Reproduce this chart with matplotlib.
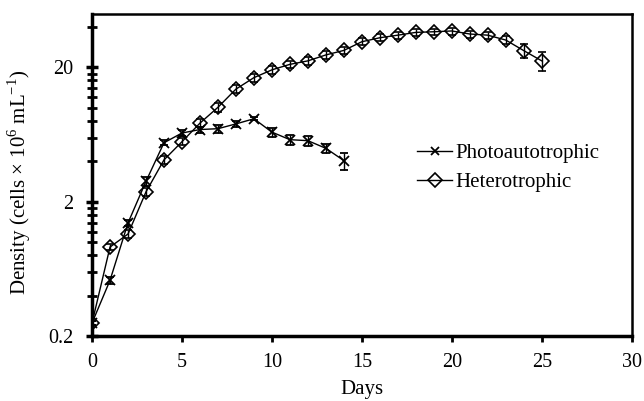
import matplotlib.pyplot as plt
import numpy as np
from matplotlib.lines import Line2D
from matplotlib.ticker import FixedLocator, NullFormatter

plt.rcParams['font.family'] = ['Liberation Serif', 'DejaVu Serif']
plt.rcParams['mathtext.fontset'] = 'custom'
plt.rcParams['mathtext.rm'] = 'Liberation Serif'

# Data
days_photo = [0, 1, 2, 3, 4, 5, 6, 7, 8, 9, 10, 11, 12, 13, 14]
photo = [0.25, 0.52, 1.39, 2.84, 5.5, 6.5, 6.9, 7.0, 7.6, 8.3, 6.6, 5.8, 5.7, 5.0, 4.05]
photo_err = [0.01, 0.03, 0.08, 0.2, 0.25, 0.3, 0.35, 0.5, 0.45, 0.2, 0.5, 0.5, 0.5, 0.4, 0.6]

days_hetero = list(range(26))
hetero = [0.25, 0.92, 1.15, 2.37, 4.1, 5.6, 7.7, 10.1, 13.8, 16.8, 19.2, 21.1,
          22.4, 24.8, 26.8, 31.1, 33.3, 34.8, 36.5, 36.9, 37.4, 35.5, 34.8,
          32.0, 26.7, 22.4]
hetero_err = [0.01, 0.05, 0.08, 0.15, 0.25, 0.35, 0.5, 0.7, 0.9, 1.1, 1.3, 1.4,
              1.5, 1.6, 1.7, 1.9, 2.0, 2.0, 2.1, 2.1, 2.2, 2.1, 2.1,
              2.2, 3.0, 3.6]

x_ticks = [0, 5, 10, 15, 20, 25, 30]
y_major = [0.2, 2, 20]
y_labels = ['0.2', '2', '20']

fig = plt.figure(figsize=(6.44, 4.01), dpi=100)
ax = fig.add_axes([0.1429, 0.162, 0.838, 0.803])

ax.errorbar(days_photo, photo, yerr=photo_err, color='black', lw=1.0,
            marker='x', ms=7, mew=1.3, capsize=3, elinewidth=1.0)
ax.errorbar(days_hetero, hetero, yerr=hetero_err, color='black', lw=1.0,
            marker='D', ms=7.5, mfc='none', mew=1.2, capsize=3, elinewidth=1.0)

ax.set_yscale('log')
ax.set_xlim(0, 30)
ax.set_ylim(0.2, 50)

ax.set_xticks(x_ticks)
ax.set_xticklabels([str(t) for t in x_ticks])
ax.yaxis.set_major_locator(FixedLocator(y_major))
ax.set_yticklabels(y_labels)
minor = [0.2 * k for k in range(2, 10)] + [2 * k for k in range(2, 10)] + [40]
ax.yaxis.set_minor_locator(FixedLocator(minor))
ax.yaxis.set_minor_formatter(NullFormatter())

ax.tick_params(axis='y', which='major', direction='inout', length=9, width=2.5,
               labelsize=14.5, pad=9)
ax.tick_params(axis='y', which='minor', direction='inout', length=7, width=2)
ax.tick_params(axis='x', which='major', direction='out', length=4, width=2,
               labelsize=14.5, pad=8)

for s in ['left', 'bottom']:
    ax.spines[s].set_linewidth(2.5)
for s in ['top', 'right']:
    ax.spines[s].set_linewidth(1.8)

ax.set_xlabel('Days', fontsize=15, labelpad=6)
ax.set_ylabel(r'Density (cells $\times$ 10$^{6}$ mL$^{-1}$)', fontsize=15)
ax.yaxis.set_label_coords(-0.109, 0.477)

handles = [
    Line2D([], [], color='black', lw=1.0, marker='x', ms=6, mew=1.3),
    Line2D([], [], color='black', lw=1.0, marker='D', ms=7, mfc='none', mew=1.2),
]
ax.legend(handles, ['Photoautotrophic', 'Heterotrophic'], loc='center left',
          bbox_to_anchor=(0.602, 0.523), frameon=False, borderpad=0,
          borderaxespad=0, fontsize=15, handlelength=1.7, handletextpad=0.15,
          labelspacing=0.45)

fig.savefig('out.png', dpi=100)
